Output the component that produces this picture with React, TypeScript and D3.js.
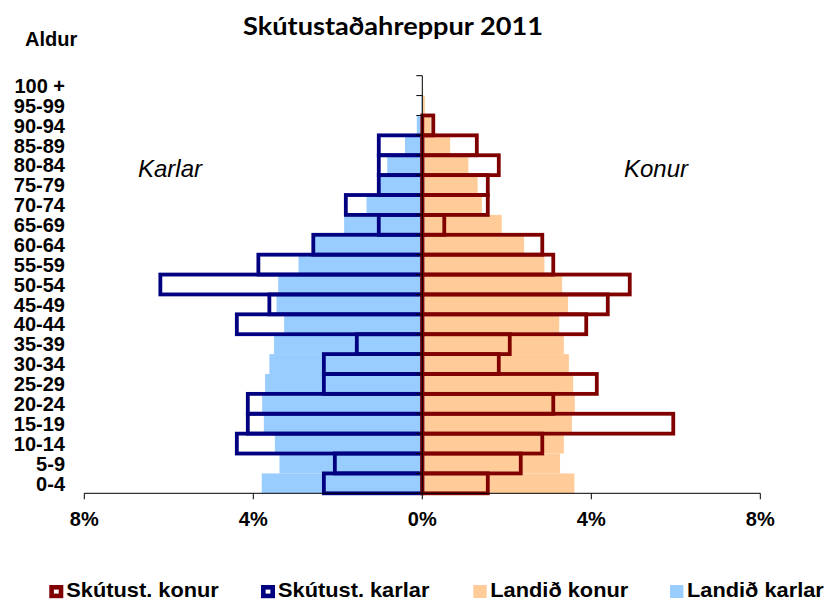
import * as d3 from 'd3'

// age groups, bottom to top
const ageGroups = ['0-4', '5-9', '10-14', '15-19', '20-24', '25-29', '30-34', '35-39', '40-44', '45-49', '50-54',
	'55-59', '60-64', '65-69', '70-74', '75-79', '80-84', '85-89', '90-94', '95-99', '100 +']

// % of population
const skutKonur = [1.55, 2.33, 2.84, 5.94, 3.1, 4.13, 1.81, 2.07, 3.88, 4.39, 4.91, 3.1, 2.84, 0.52, 1.55, 1.55, 1.81, 1.29, 0.26, 0, 0]
const skutKarlar = [2.33, 2.07, 4.39, 4.13, 4.13, 2.33, 2.33, 1.55, 4.39, 3.62, 6.2, 3.88, 2.58, 1.03, 1.81, 1.03, 1.03, 1.03, 0, 0, 0]
const landidKonur = [3.6, 3.26, 3.35, 3.54, 3.61, 3.57, 3.47, 3.35, 3.24, 3.45, 3.31, 2.89, 2.41, 1.88, 1.41, 1.31, 1.09, 0.66, 0.2, 0.06, 0.01]
const landidKarlar = [3.8, 3.38, 3.49, 3.75, 3.79, 3.72, 3.62, 3.51, 3.27, 3.45, 3.41, 2.93, 2.55, 1.85, 1.32, 1.0, 0.83, 0.41, 0.13, 0.02, 0]

const xTicks = [-8, -4, 0, 4, 8]
const legendItems = ['Skútust. konur', 'Skútust. karlar', 'Landið konur', 'Landið karlar']

const RED = '#800000'
const NAVY = '#000080'
const ORANGE = '#FFCC99'
const BLUE = '#99CCFF'
const FONT = '"Liberation Sans", Arial, sans-serif'

export default function App() {
	const width = 825
	const height = 601
	const top = 75.7
	const bottom = 493.3

	const x = d3.scaleLinear().domain([-8, 8]).range([84.3, 760.3])
	const y = d3
		.scaleBand()
		.domain([...ageGroups].reverse())
		.range([top, bottom])
		.padding(0)
	const bw = y.bandwidth()
	const x0 = x(0)

	const fillBars = (vals, sign, color) =>
		vals.map((v, i) => {
			if (v <= 0) return null
			const xa = x(sign * v)
			return (
				<rect key={color + i} x={Math.min(xa, x0)} y={y(ageGroups[i])} width={Math.abs(xa - x0)} height={bw} fill={color} />
			)
		})

	const boxBars = (vals, sign, color) =>
		vals.map((v, i) => {
			if (v <= 0) return null
			const xa = x(sign * v)
			return (
				<rect
					key={color + 'b' + i}
					x={Math.min(xa, x0)}
					y={y(ageGroups[i])}
					width={Math.abs(xa - x0)}
					height={bw}
					fill="none"
					stroke={color}
					strokeWidth={3.8}
				/>
			)
		})

	const legendX = [49.3, 261, 473.3, 670]
	const legendColors = [RED, NAVY, ORANGE, BLUE]

	return (
		<svg width={width} height={height} style={{ position: 'absolute', left: 0, top: 0, background: '#fff' }} fontFamily={FONT}>
			{/* title */}
			<text x={393} y={34.5} textAnchor="middle" fontFamily="Lato, 'Open Sans', sans-serif" fontWeight="bold" fontSize={24} textLength={300} lengthAdjust="spacingAndGlyphs">
				Skútustaðahreppur 2011
			</text>
			<text x={25} y={46} fontWeight="bold" fontSize={20}>
				Aldur
			</text>

			{/* bars */}
			{fillBars(landidKarlar, -1, BLUE)}
			{fillBars(landidKonur, 1, ORANGE)}
			{boxBars(skutKarlar, -1, NAVY)}
			{boxBars(skutKonur, 1, RED)}

			{/* center axis */}
			<line x1={x0} x2={x0} y1={top} y2={bottom} stroke="#000" strokeWidth={1} />
			{d3.range(ageGroups.length + 1).map((i) => {
				const yy = top + i * bw
				return <line key={'yt' + i} x1={x0 - 6} x2={x0} y1={yy} y2={yy} stroke="#000" strokeWidth={1} />
			})}

			{/* age labels */}
			{ageGroups.map((a) => (
				<text key={a} x={65} y={y(a) + bw / 2} dy="0.36em" textAnchor="end" fontWeight="bold" fontSize={20}>
					{a}
				</text>
			))}

			{/* x axis */}
			<line x1={x(-8)} x2={x(8)} y1={bottom} y2={bottom} stroke="#000" strokeWidth={1} />
			{xTicks.map((t) => (
				<g key={'xt' + t}>
					<line x1={x(t)} x2={x(t)} y1={bottom} y2={bottom + 6} stroke="#000" strokeWidth={1} />
					<text x={x(t)} y={526} textAnchor="middle" fontWeight="bold" fontSize={20}>
						{Math.abs(t) + '%'}
					</text>
				</g>
			))}

			{/* side labels */}
			<text x={170} y={177} textAnchor="middle" fontStyle="italic" fontSize={24}>
				Karlar
			</text>
			<text x={656} y={177} textAnchor="middle" fontStyle="italic" fontSize={24}>
				Konur
			</text>

			{/* legend */}
			{legendItems.map((name, i) => {
				const lx = legendX[i]
				const outlined = i < 2
				return (
					<g key={name}>
						{outlined ? (
							<rect x={lx + 2.3} y={587.3} width={9.4} height={8.6} fill="#fff" stroke={legendColors[i]} strokeWidth={4.6} />
						) : (
							<rect x={lx} y={585} width={13.4} height={13} fill={legendColors[i]} />
						)}
						<text x={0} y={0} fontWeight="bold" fontSize={20} transform={`translate(${lx + 17},597.3) scale(1.09,1)`}>
							{name}
						</text>
					</g>
				)
			})}
		</svg>
	)
}
